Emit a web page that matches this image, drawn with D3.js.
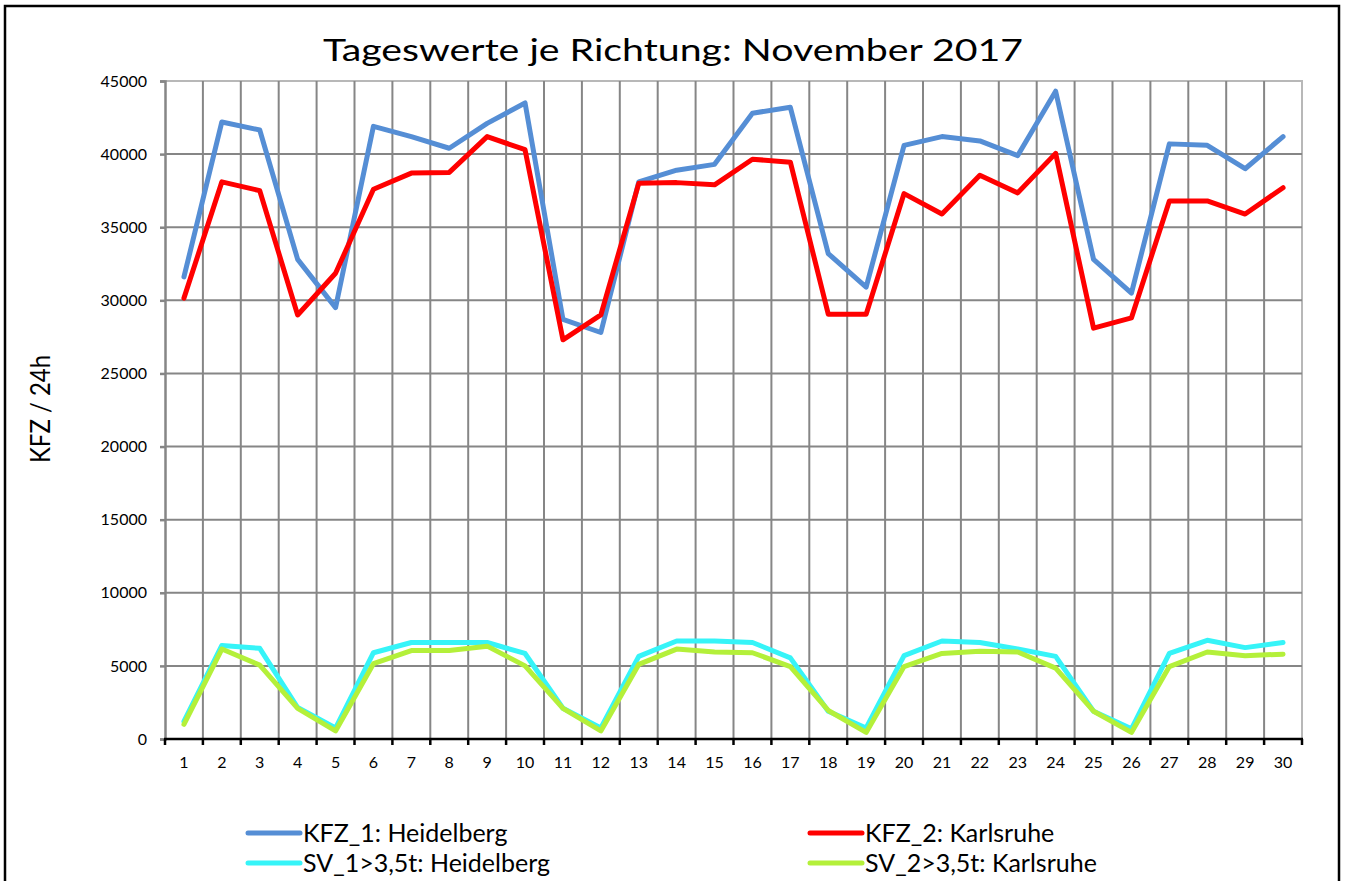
<!DOCTYPE html>
<html>
<head>
<meta charset="utf-8">
<script src="https://cdn.jsdelivr.net/npm/d3@7"></script>
<style>
  body { margin: 0; background: #fff; }
  svg text { font-family: Lato, "Open Sans", sans-serif; fill: #000; }
</style>
</head>
<body>
<div id="chart"></div>
<script>
// Data
const days = d3.range(1, 31);
const kfz1 = [31600, 42200, 41650, 32800, 29500, 41900, 41200, 40400, 42100, 43500,
              28700, 27800, 38100, 38900, 39300, 42800, 43200, 33200, 30900, 40600,
              41200, 40900, 39900, 44300, 32800, 30500, 40700, 40600, 39000, 41200];
const kfz2 = [30150, 38100, 37500, 29000, 31850, 37600, 38700, 38750, 41200, 40300,
              27300, 29000, 38000, 38050, 37900, 39650, 39450, 29050, 29050, 37300,
              35900, 38550, 37350, 40050, 28100, 28800, 36800, 36800, 35900, 37700];
const sv1 = [1200, 6400, 6200, 2150, 750, 5900, 6600, 6600, 6600, 5850,
             2100, 750, 5650, 6700, 6700, 6600, 5550, 1900, 750, 5700,
             6700, 6600, 6150, 5650, 1900, 700, 5850, 6750, 6250, 6600];
const sv2 = [1000, 6150, 5050, 2100, 550, 5150, 6050, 6050, 6350, 5000,
             2100, 550, 5100, 6150, 5950, 5900, 4950, 1950, 450, 4950,
             5850, 6000, 5950, 4850, 1900, 450, 4950, 5950, 5700, 5800];
const yTicks = d3.range(0, 45001, 5000);

const series = [
  { name: "KFZ_1: Heidelberg", values: kfz1, color: "#558ed5" },
  { name: "KFZ_2: Karlsruhe", values: kfz2, color: "#ff0000" },
  { name: "SV_1>3,5t: Heidelberg", values: sv1, color: "#36f4f8" },
  { name: "SV_2>3,5t: Karlsruhe", values: sv2, color: "#b4f03a" }
];

const width = 1348;
const height = 881;
const plot = { left: 165, right: 1302, top: 81, bottom: 739 };

const svg = d3.select("#chart").append("svg")
  .attr("width", width)
  .attr("height", height);

// outer frame
svg.append("rect")
  .attr("x", 5).attr("y", 6)
  .attr("width", 1334).attr("height", 900)
  .attr("fill", "none")
  .attr("stroke", "#000")
  .attr("stroke-width", 2.5);

// Scales
const x = d3.scaleBand().domain(days).range([plot.left, plot.right]).padding(0);
const y = d3.scaleLinear().domain([0, 45000]).range([plot.bottom, plot.top]);
const cx = (d) => x(d) + x.bandwidth() / 2;

// plot border (top / right light grey)
svg.append("path")
  .attr("d", `M${plot.left},${plot.top}H${plot.right}V${plot.bottom}`)
  .attr("fill", "none")
  .attr("stroke", "#b8b8b8")
  .attr("stroke-width", 2);

// horizontal grid
svg.append("g")
  .selectAll("line")
  .data(yTicks.filter((t) => t > 0 && t < 45000))
  .join("line")
  .attr("x1", plot.left).attr("x2", plot.right)
  .attr("y1", (d) => y(d)).attr("y2", (d) => y(d))
  .attr("stroke", "#868686")
  .attr("stroke-width", 2);

// vertical grid at category boundaries
svg.append("g")
  .selectAll("line")
  .data(days.slice(1))
  .join("line")
  .attr("x1", (d) => x(d)).attr("x2", (d) => x(d))
  .attr("y1", plot.top).attr("y2", plot.bottom)
  .attr("stroke", "#868686")
  .attr("stroke-width", 2);

// y axis
const yAxis = svg.append("g")
  .attr("transform", `translate(${plot.left},0)`)
  .call(d3.axisLeft(y).tickValues(yTicks).tickSize(5).tickPadding(13).tickFormat(d3.format("d")));
yAxis.select(".domain").attr("stroke", "#868686").attr("stroke-width", 2.5);
yAxis.selectAll(".tick line").attr("stroke", "#868686").attr("stroke-width", 2.5);
yAxis.selectAll("text").style("font-size", "16px");

// x axis (ticks at category boundaries, labels at centres)
const xAxisG = svg.append("g").attr("transform", `translate(0,${plot.bottom})`);
xAxisG.append("line")
  .attr("x1", plot.left - 1).attr("x2", plot.right + 1)
  .attr("stroke", "#000").attr("stroke-width", 2.5);
xAxisG.selectAll(".tk")
  .data(days.concat([31]))
  .join("line")
  .attr("class", "tk")
  .attr("x1", (d) => (d === 31 ? plot.right : x(d)))
  .attr("x2", (d) => (d === 31 ? plot.right : x(d)))
  .attr("y1", 0).attr("y2", 6)
  .attr("stroke", "#000").attr("stroke-width", 2.5);
xAxisG.selectAll(".lbl")
  .data(days)
  .join("text")
  .attr("class", "lbl")
  .attr("x", cx)
  .attr("y", 29)
  .attr("text-anchor", "middle")
  .style("font-size", "16px")
  .text((d) => d);

// lines (first series at the bottom, last on top)
const line = d3.line().x((d, i) => cx(days[i])).y((d) => y(d));
svg.append("g")
  .selectAll("path")
  .data(series)
  .join("path")
  .attr("d", (s) => line(s.values))
  .attr("fill", "none")
  .attr("stroke", (s) => s.color)
  .attr("stroke-width", 5)
  .attr("stroke-linejoin", "round")
  .attr("stroke-linecap", "round");

// title
svg.append("text")
  .attr("x", 673)
  .attr("y", 61)
  .attr("text-anchor", "middle")
  .attr("textLength", 700)
  .attr("lengthAdjust", "spacingAndGlyphs")
  .style("font-size", "31px")
  .text("Tageswerte je Richtung: November 2017");

// y label
svg.append("text")
  .attr("transform", "translate(50,409) rotate(-90)")
  .attr("text-anchor", "middle")
  .attr("textLength", 108)
  .attr("lengthAdjust", "spacingAndGlyphs")
  .style("font-size", "26px")
  .text("KFZ / 24h");

// legend
const legendPos = [
  { x: 246, y: 833 }, { x: 808, y: 833 },
  { x: 246, y: 863 }, { x: 808, y: 863 }
];
const legend = svg.append("g")
  .selectAll("g")
  .data(series)
  .join("g")
  .attr("transform", (s, i) => `translate(${legendPos[i].x},${legendPos[i].y})`);
legend.append("line")
  .attr("x1", 2).attr("x2", 54)
  .attr("stroke", (s) => s.color)
  .attr("stroke-width", 5)
  .attr("stroke-linecap", "round");
legend.append("text")
  .attr("x", 57)
  .attr("dy", "0.35em")
  .style("font-size", "25px")
  .text((s) => s.name);
</script>
</body>
</html>
